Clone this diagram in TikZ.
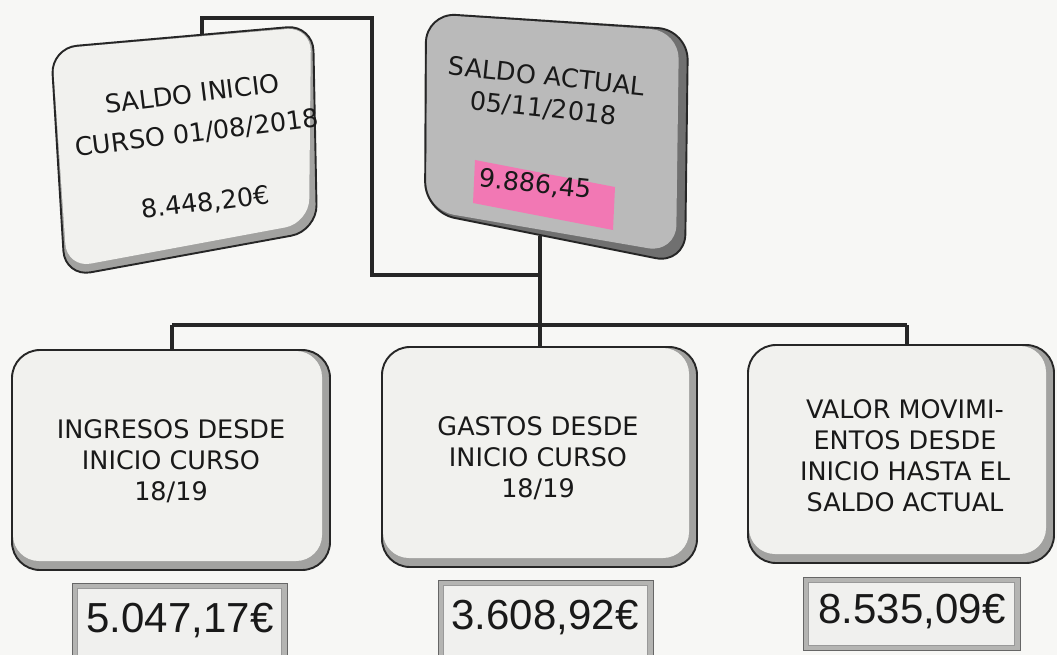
\documentclass[tikz,border=0pt]{standalone}
\usepackage{fontspec}
\setmainfont{DejaVu Sans}
\newfontfamily\valfont{Liberation Sans}
\definecolor{bg}{HTML}{F7F7F5}
\definecolor{boxfill}{HTML}{F1F1EE}
\definecolor{bevel}{HTML}{A2A2A0}
\definecolor{grayfill}{HTML}{BABABA}
\definecolor{graybevel}{HTML}{707070}
\definecolor{pinkhl}{HTML}{F278B4}
\definecolor{linec}{HTML}{262626}
\definecolor{valout}{HTML}{B4B4B2}
\definecolor{valin}{HTML}{F0F0EE}
\begin{document}
\begin{tikzpicture}[x=1pt,y=-1pt,
  conn/.style={draw=linec,line width=3.2pt},
  border/.style={draw=black!85,line width=1.9pt},
  txt/.style={font=\fontsize{25.5}{31}\selectfont, align=center, inner sep=0pt, text=black!90},
  valtxt/.style={font=\valfont\fontsize{42}{42}\selectfont, inner sep=0pt, text=black!90},
  valouter/.style={fill=valout, draw=black!60, line width=0.8pt},
  valinner/.style={fill=valin, draw=black!40, line width=0.6pt},
]
\useasboundingbox[fill=bg] (0,0) rectangle (1057,655);

% ---------- connector coordinates ----------
\coordinate (linTop) at (202,36);
\coordinate (j1) at (202,18);
\coordinate (j2) at (372,18);
\coordinate (j3) at (372,275);
\coordinate (j4) at (540,275);
\coordinate (actBot) at (540,236);
\coordinate (h1) at (172,325);
\coordinate (h3) at (907,325);
\coordinate (b1top) at (172,351);
\coordinate (b2top) at (540,348);
\coordinate (b3top) at (907,346);

% ---------- connectors ----------
\draw[conn] (linTop) -- (j1) -- (j2) -- (j3) -- (j4);
\draw[conn] (actBot) -- (b2top);
\draw[conn] (h1) -- (h3);
\draw[conn] (h1) -- (b1top);
\draw[conn] (h3) -- (b3top);

% ---------- left skewed box ----------
\fill[bevel, rounded corners=26pt] (51,48) -- (313,25) -- (317,231) -- (65,277) -- cycle;
\fill[boxfill, rounded corners=24pt] (52,49) -- (311,27) -- (309,223) -- (67,268) -- cycle;
\draw[border, rounded corners=26pt] (51,48) -- (313,25) -- (317,231) -- (65,277) -- cycle;
\node[txt, rotate=7] (ini) at (199,149) {SALDO INICIO\\[8pt]CURSO 01/08/2018\\[39pt]8.448,20€};

% ---------- gray skewed box ----------
\fill[graybevel, rounded corners=30pt] (426,13) -- (688,30) -- (685,264) -- (425,212) -- cycle;
\fill[grayfill, rounded corners=28pt] (427,14) -- (679,31) -- (676,253) -- (426,210) -- cycle;
\draw[border, rounded corners=30pt] (426,13) -- (688,30) -- (685,264) -- (425,212) -- cycle;
\fill[pinkhl] (475,160) -- (615,187) -- (613,230) -- (473,203) -- cycle;
\node[txt, rotate=-6] (act) at (541,131) {SALDO ACTUAL\\[1pt]05/11/2018\\[45pt]9.886,45};

% ---------- bottom boxes ----------
\fill[bevel, rounded corners=28pt] (12,350) rectangle (330,570);
\fill[boxfill, rounded corners=26pt] (13,351) rectangle (322,561);
\draw[border, rounded corners=28pt] (12,350) rectangle (330,570);
\node[txt] (ing) at (171,461) {INGRESOS DESDE\\INICIO CURSO\\18/19};

\fill[bevel, rounded corners=28pt] (382,347) rectangle (697,567);
\fill[boxfill, rounded corners=26pt] (383,348) rectangle (689,558);
\draw[border, rounded corners=28pt] (382,347) rectangle (697,567);
\node[txt] (gas) at (538,458) {GASTOS DESDE\\INICIO CURSO\\18/19};

\fill[bevel, rounded corners=28pt] (748,345) rectangle (1054,563);
\fill[boxfill, rounded corners=26pt] (749,346) rectangle (1046,554);
\draw[border, rounded corners=28pt] (748,345) rectangle (1054,563);
\node[txt] (val) at (905,456) {VALOR MOVIMI-\\ENTOS DESDE\\INICIO HASTA EL\\SALDO ACTUAL};

% ---------- value boxes ----------
\draw[valouter] (72,583) rectangle (287,662);
\draw[valinner] (77,588) rectangle (281,662);
\node[valtxt] (v1) at (180,621) {5.047,17€};

\draw[valouter] (438,580) rectangle (653,662);
\draw[valinner] (443,585) rectangle (647,662);
\node[valtxt] (v2) at (545,618) {3.608,92€};

\draw[valouter] (803,577) rectangle (1020,650);
\draw[valinner] (808,582) rectangle (1014,645);
\node[valtxt] (v3) at (912,612) {8.535,09€};
\end{tikzpicture}
\end{document}
